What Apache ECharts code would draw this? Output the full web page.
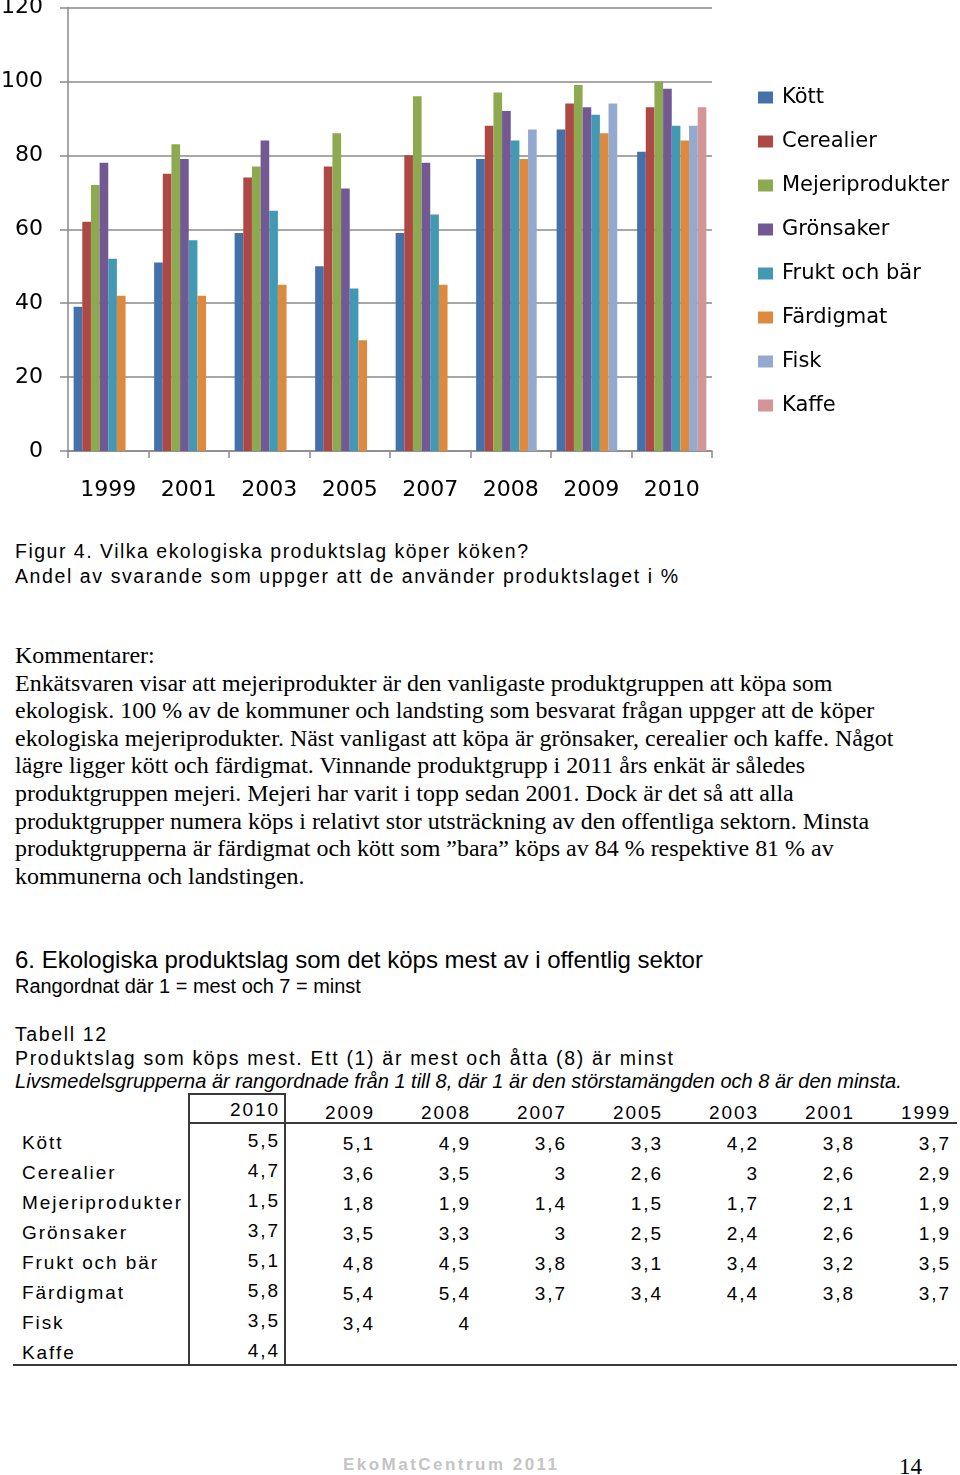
<!DOCTYPE html>
<html>
<head>
<meta charset="utf-8">
<script src="https://cdn.jsdelivr.net/npm/echarts@6/dist/echarts.min.js"></script>
<style>
  html, body { margin:0; padding:0; background:#fff; }
  #page { position:relative; width:960px; height:1475px; overflow:hidden; background:#fff; }
  .t { position:absolute; white-space:pre; color:#000; }
  .sans { font-family:"Liberation Sans", Arial, sans-serif; }
  .serif { font-family:"Liberation Serif", "Times New Roman", serif; }
  #para { position:absolute; left:15px; top:642px; font-size:22px; line-height:27.6px; }
  #para div { white-space:pre; height:27.6px; }
  #para span { display:inline-block; }
  .cell { position:absolute; white-space:pre; font-family:"Liberation Sans", Arial, sans-serif; font-size:19px; line-height:22px; color:#000; }
  .ln { position:absolute; background:#3a3a3a; }
</style>
</head>
<body>
<div id="page">
  <div id="chart" style="position:absolute;left:0;top:0;width:960px;height:510px;"></div>

  <div class="t sans" style="left:15px;top:539px;font-size:19.5px;line-height:24px;" data-fit="spacing" data-w="513">Figur 4. Vilka ekologiska produktslag köper köken?</div>
  <div class="t sans" style="left:15px;top:564px;font-size:19.5px;line-height:24px;" data-fit="spacing" data-w="663">Andel av svarande som uppger att de använder produktslaget i %</div>

  <div id="para" class="serif">
    <div><span>Kommentarer:</span></div>
    <div><span id="pline1">Enkätsvaren visar att mejeriprodukter är den vanligaste produktgruppen att köpa som</span></div>
    <div><span>ekologisk. 100 % av de kommuner och landsting som besvarat frågan uppger att de köper</span></div>
    <div><span>ekologiska mejeriprodukter. Näst vanligast att köpa är grönsaker, cerealier och kaffe. Något</span></div>
    <div><span>lägre ligger kött och färdigmat. Vinnande produktgrupp i 2011 års enkät är således</span></div>
    <div><span>produktgruppen mejeri. Mejeri har varit i topp sedan 2001. Dock är det så att alla</span></div>
    <div><span>produktgrupper numera köps i relativt stor utsträckning av den offentliga sektorn. Minsta</span></div>
    <div><span>produktgrupperna är färdigmat och kött som ”bara” köps av 84 % respektive 81 % av</span></div>
    <div><span>kommunerna och landstingen.</span></div>
  </div>

  <div class="t sans" style="left:15px;top:947px;font-size:21px;line-height:26px;" data-fit="font" data-w="688">6. Ekologiska produktslag som det köps mest av i offentlig sektor</div>
  <div class="t sans" style="left:15px;top:976px;font-size:17px;line-height:20px;" data-fit="font" data-w="346">Rangordnat där 1 = mest och 7 = minst</div>

  <div class="t sans" style="left:15px;top:1023px;font-size:19.5px;line-height:22px;" data-fit="spacing" data-w="91">Tabell 12</div>
  <div class="t sans" style="left:15px;top:1047px;font-size:19.5px;line-height:22px;" data-fit="spacing" data-w="658">Produktslag som köps mest. Ett (1) är mest och åtta (8) är minst</div>
  <div class="t sans" style="left:15px;top:1070px;font-size:18px;line-height:22px;font-style:italic;" data-fit="font" data-w="887">Livsmedelsgrupperna är rangordnade från 1 till 8, där 1 är den störstamängden och 8 är den minsta.</div>

  <div id="table"></div>

  <div class="t sans" style="left:343px;top:1455px;font-size:17px;line-height:20px;font-weight:bold;color:#c4c4c4;" data-fit="spacing" data-w="214">EkoMatCentrum 2011</div>
  <div class="t serif" style="left:899px;top:1455px;font-size:23px;line-height:24px;">14</div>
</div>

<script>
// ---- Chart data ----
const years = ['1999', '2001', '2003', '2005', '2007', '2008', '2009', '2010'];
const seriesNames = ['Kött', 'Cerealier', 'Mejeriprodukter', 'Grönsaker', 'Frukt och bär', 'Färdigmat', 'Fisk', 'Kaffe'];
const kott        = [39, 51, 59, 50, 59, 79, 87, 81];
const cerealier   = [62, 75, 74, 77, 80, 88, 94, 93];
const mejeri      = [72, 83, 77, 86, 96, 97, 99, 100];
const gronsaker   = [78, 79, 84, 71, 78, 92, 93, 98];
const fruktOchBar = [52, 57, 65, 44, 64, 84, 91, 88];
const fardigmat   = [42, 42, 45, 30, 45, 79, 86, 84];
const fisk        = [null, null, null, null, null, 87, 94, 88];
const kaffe       = [null, null, null, null, null, null, null, 93];
const yTicks = [0, 20, 40, 60, 80, 100, 120];

// ---- Table data ----
const tableYears = ['2010', '2009', '2008', '2007', '2005', '2003', '2001', '1999'];
const tableProducts = ['Kött', 'Cerealier', 'Mejeriprodukter', 'Grönsaker', 'Frukt och bär', 'Färdigmat', 'Fisk', 'Kaffe'];
const rankKott        = ['5,5', '5,1', '4,9', '3,6', '3,3', '4,2', '3,8', '3,7'];
const rankCerealier   = ['4,7', '3,6', '3,5', '3', '2,6', '3', '2,6', '2,9'];
const rankMejeri      = ['1,5', '1,8', '1,9', '1,4', '1,5', '1,7', '2,1', '1,9'];
const rankGronsaker   = ['3,7', '3,5', '3,3', '3', '2,5', '2,4', '2,6', '1,9'];
const rankFrukt       = ['5,1', '4,8', '4,5', '3,8', '3,1', '3,4', '3,2', '3,5'];
const rankFardigmat   = ['5,8', '5,4', '5,4', '3,7', '3,4', '4,4', '3,8', '3,7'];
const rankFisk        = ['3,5', '3,4', '4', '', '', '', '', ''];
const rankKaffe       = ['4,4', '', '', '', '', '', '', ''];

const seriesValues = [kott, cerealier, mejeri, gronsaker, fruktOchBar, fardigmat, fisk, kaffe];
const tableRows = [rankKott, rankCerealier, rankMejeri, rankGronsaker, rankFrukt, rankFardigmat, rankFisk, rankKaffe];
const palette = ['#4471AA', '#AE4845', '#8DAA50', '#725993', '#4299B1', '#DE8A3E', '#94A9D0', '#D39595'];

const gridColor = '#8a8a8a';
const chart = echarts.init(document.getElementById('chart'));
chart.setOption({
  animation: false,
  textStyle: { fontFamily: 'DejaVu Sans' },
  grid: { left: 68, right: 248, top: 7.5, bottom: 59, containLabel: false, outerBoundsMode: 'none' },
  legend: {
    orient: 'vertical', left: 758, top: 87, padding: 0,
    itemWidth: 15, itemHeight: 12, itemGap: 23, icon: 'rect',
    data: seriesNames,
    textStyle: { fontSize: 21, lineHeight: 21, color: '#000', fontFamily: 'DejaVu Sans', padding: [0, 0, 0, 4] }
  },
  xAxis: {
    type: 'category', data: years,
    axisLine: { lineStyle: { color: gridColor, width: 1.5 } },
    axisTick: { show: true, length: 7, lineStyle: { color: gridColor, width: 1.5 } },
    axisLabel: { fontSize: 22, color: '#000', margin: 28, fontFamily: 'DejaVu Sans' }
  },
  yAxis: {
    type: 'value', min: yTicks[0], max: yTicks[yTicks.length - 1], interval: yTicks[1] - yTicks[0],
    axisLine: { show: true, lineStyle: { color: gridColor, width: 1.5 } },
    axisTick: { show: true, length: 8, lineStyle: { color: gridColor, width: 1.5 } },
    splitLine: { lineStyle: { color: gridColor, width: 1.5 } },
    axisLabel: { fontSize: 22, color: '#000', margin: 25, fontFamily: 'DejaVu Sans' }
  },
  series: seriesNames.map((n, i) => ({
    type: 'bar', name: n, data: seriesValues[i],
    barGap: '0%', barCategoryGap: '14%',
    itemStyle: { color: palette[i] }
  }))
});

// ---- Table layout ----
const table = document.getElementById('table');
const colRight = [278, 373, 469, 565, 661, 757, 853, 949];
function cell(text, x, top, alignRight) {
  const d = document.createElement('div');
  d.className = 'cell';
  d.textContent = text;
  d.style.top = top + 'px';
  if (alignRight) { d.style.right = (960 - x) + 'px'; d.style.textAlign = 'right'; d.dataset.r = '1'; }
  else d.style.left = x + 'px';
  table.appendChild(d);
  return d;
}
function line(x, y, w, h) {
  const d = document.createElement('div');
  d.className = 'ln';
  d.style.left = x + 'px'; d.style.top = y + 'px';
  d.style.width = w + 'px'; d.style.height = h + 'px';
  table.appendChild(d);
}
const tableCells = [];
tableYears.forEach((y, j) => tableCells.push(cell(y, colRight[j], j === 0 ? 1099 : 1102, true)));
let refCell = null;
tableProducts.forEach((p, i) => {
  const c = cell(p, 22, 1132 + 30 * i, false);
  tableCells.push(c);
  if (p === 'Mejeriprodukter') refCell = c;
  tableRows[i].forEach((v, j) => {
    if (v !== '') tableCells.push(cell(v, colRight[j], (j === 0 ? 1130 : 1133) + 30 * i, true));
  });
});
line(189, 1093, 97, 2);
line(189, 1122, 768, 2);
line(13, 1364, 944, 2);
line(188, 1093, 2, 273);
line(284, 1093, 2, 273);

// ---- Fit text widths ----
function fitAll() {
  document.querySelectorAll('[data-fit]').forEach(el => {
    const target = +el.dataset.w;
    const w = el.getBoundingClientRect().width;
    if (el.dataset.fit === 'font') {
      const fs = parseFloat(getComputedStyle(el).fontSize);
      el.style.fontSize = (fs * target / w) + 'px';
    } else {
      const n = el.textContent.length;
      el.style.letterSpacing = ((target - w) / (n - 1)) + 'px';
    }
  });
  const para = document.getElementById('para');
  const pl = document.getElementById('pline1');
  const pw = pl.getBoundingClientRect().width;
  const pfs = parseFloat(getComputedStyle(para).fontSize);
  para.style.fontSize = (pfs * 818 / pw) + 'px';

  const rw = refCell.getBoundingClientRect().width;
  const ls = (159 - rw) / (refCell.textContent.length - 1);
  tableCells.forEach(c => {
    c.style.letterSpacing = ls + 'px';
    if (c.dataset.r) c.style.marginRight = (-ls) + 'px';
  });
}
if (document.fonts && document.fonts.ready) document.fonts.ready.then(fitAll); else fitAll();
</script>
</body>
</html>
